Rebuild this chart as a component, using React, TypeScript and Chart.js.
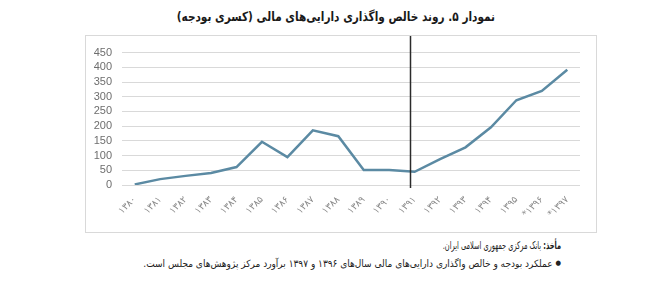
import React, { useEffect, useRef } from "react";
import { Chart, registerables } from "chart.js";

Chart.register(...registerables);

const categories = [
  "۱۳۸۰", "۱۳۸۱", "۱۳۸۲", "۱۳۸۳", "۱۳۸۴", "۱۳۸۵", "۱۳۸۶", "۱۳۸۷", "۱۳۸۸",
  "۱۳۸۹", "۱۳۹۰", "۱۳۹۱", "۱۳۹۲", "۱۳۹۳", "۱۳۹۴", "۱۳۹۵", "*۱۳۹۶", "*۱۳۹۷",
];
const values = [2, 20, 31, 41, 61, 147, 95, 186, 166, 51, 51, 45, 88, 128, 196, 288, 320, 392];
const yTicks = [0, 50, 100, 150, 200, 250, 300, 350, 400, 450];
const markerCategory = "۱۳۹۱";

const title = "نمودار ۵. روند خالص واگذاری دارایی‌های مالی (کسری بودجه)";
const sourceLabel = "مأخذ:";
const sourceText = " بانک مرکزی جمهوری اسلامی ایران.";
const noteLine =
  "عملکرد بودجه و خالص واگذاری دارایی‌های مالی سال‌های ۱۳۹۶ و ۱۳۹۷ برآورد مرکز پژوهش‌های مجلس است.";

const markerPlugin = {
  id: "markerLine",
  afterDatasetsDraw(chart: any) {
    const x = chart.scales.x;
    const idx = categories.indexOf(markerCategory);
    const step = x.getPixelForValue(1) - x.getPixelForValue(0);
    const px = Math.round(x.getPixelForValue(idx) - step * 0.2) + 0.5;
    const ctx = chart.ctx;
    ctx.save();
    ctx.strokeStyle = "#2b2b2b";
    ctx.lineWidth = 1.5;
    ctx.beginPath();
    ctx.moveTo(px, 0);
    ctx.lineTo(px, chart.chartArea.bottom + 3);
    ctx.stroke();
    ctx.restore();
  },
};

const fitText = (scale: number, origin = "right center"): React.CSSProperties => ({
  display: "inline-block",
  transform: `scaleX(${scale})`,
  transformOrigin: origin,
});

export default function App() {
  const ref = useRef<HTMLCanvasElement | null>(null);

  useEffect(() => {
    document.body.style.margin = "0";
    const canvas = ref.current;
    if (!canvas) return;
    const chart = new Chart(canvas, {
      type: "line",
      data: {
        labels: categories,
        datasets: [
          {
            data: values,
            borderColor: "#5b8aa3",
            borderWidth: 2.5,
            pointRadius: 0,
            tension: 0,
            fill: false,
          },
        ],
      },
      options: {
        animation: false,
        responsive: false,
        maintainAspectRatio: false,
        layout: { padding: { top: 14, right: 16, left: 0, bottom: 0 } },
        plugins: { legend: { display: false }, tooltip: { enabled: false } },
        scales: {
          x: {
            offset: true,
            grid: { display: false, drawTicks: false },
            border: { display: false },
            afterFit: (s: any) => {
              s.height = 47;
            },
            ticks: {
              autoSkip: false,
              maxRotation: 45,
              minRotation: 45,
              padding: 9,
              color: "#8a8a8a",
              font: { family: "DejaVu Sans", size: 9.5 },
            },
          },
          y: {
            min: 0,
            max: 450,
            afterFit: (s: any) => {
              s.width = 36;
            },
            afterBuildTicks: (s: any) => {
              s.ticks = yTicks.map((v) => ({ value: v }));
            },
            grid: { color: "#d9d9d9", lineWidth: 1, drawTicks: false },
            border: { display: false },
            ticks: {
              autoSkip: false,
              padding: 10,
              color: "#6e6e6e",
              font: { family: "Liberation Sans", size: 11 },
            },
          },
        },
      },
      plugins: [markerPlugin],
    });
    return () => chart.destroy();
  }, []);

  const textBase: React.CSSProperties = {
    position: "absolute",
    right: 651 - 561,
    fontFamily: "DejaVu Sans Condensed, DejaVu Sans",
    fontSize: 10,
    color: "#222",
    whiteSpace: "nowrap",
  };

  return (
    <div style={{ position: "relative", width: 651, height: 288, background: "#fff", overflow: "hidden" }}>
      <div
        dir="rtl"
        style={{
          position: "absolute",
          left: 86,
          width: 500,
          top: 9,
          textAlign: "center",
          fontFamily: "DejaVu Sans Condensed, DejaVu Sans",
          fontWeight: "bold",
          fontSize: 13,
          color: "#1a1a1a",
          whiteSpace: "nowrap",
        }}
      >
        <span style={fitText(0.9, "center center")}>{title}</span>
      </div>
      <div
        style={{
          position: "absolute",
          left: 85,
          top: 35,
          width: 510,
          height: 196,
          border: "1px solid #d9d9d9",
        }}
      >
        <canvas ref={ref} width={510} height={196} style={{ display: "block" }} />
      </div>
      <div dir="rtl" style={{ ...textBase, top: 239, fontSize: 10.5 }}>
        <span style={fitText(0.7)}>
          <b>{sourceLabel}</b>
          {sourceText}
        </span>
      </div>
      <div dir="rtl" style={{ ...textBase, top: 258 }}>
        <span style={fitText(1.0)}>
          <span style={{ fontSize: 7, verticalAlign: "2px", marginLeft: 3 }}>●</span>
          {noteLine}
        </span>
      </div>
    </div>
  );
}
